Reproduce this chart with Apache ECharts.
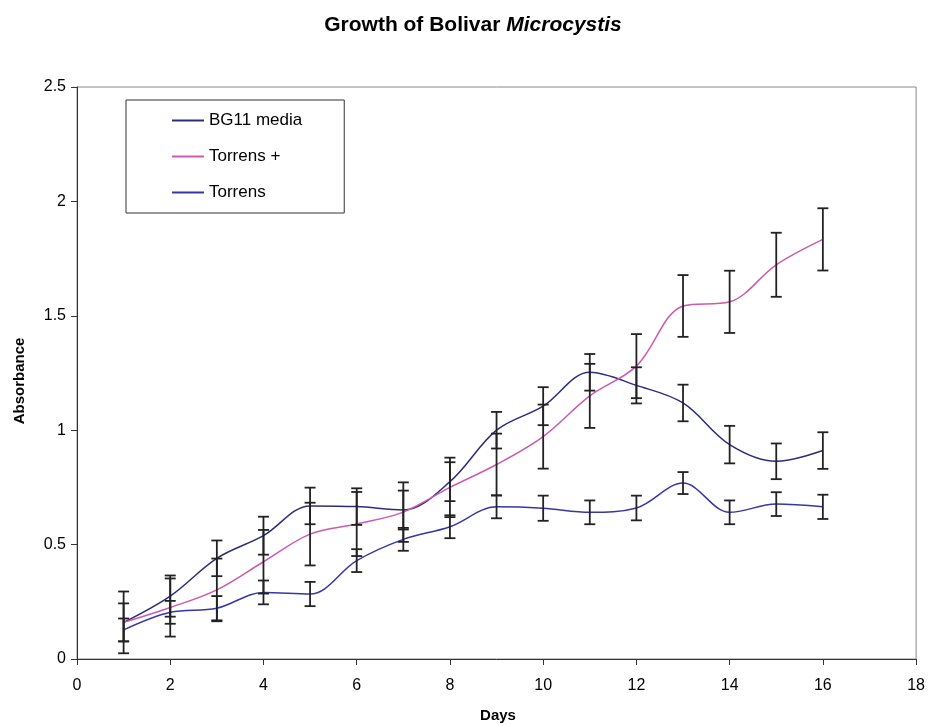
<!DOCTYPE html>
<html>
<head>
<meta charset="utf-8">
<script src="https://cdn.jsdelivr.net/npm/echarts@6/dist/echarts.min.js"></script>
<style>html,body{margin:0;padding:0;background:#fff}#c{width:928px;height:726px}</style>
</head>
<body>
<div id="c"></div>
<script>
const days = [1,2,3,4,5,6,7,8,9,10,11,12,13,14,15,16];
const bg11 = [0.16,0.275,0.44,0.539,0.669,0.666,0.651,0.775,1.0,1.105,1.253,1.196,1.119,0.937,0.864,0.911];
const bg11Err = [0.135,0.09,0.078,0.083,0.08,0.08,0.085,0.085,0.08,0.083,0.08,0.079,0.08,0.082,0.078,0.08];
const torrensPlus = [0.16,0.225,0.302,0.425,0.546,0.59,0.642,0.75,0.85,0.972,1.15,1.28,1.543,1.561,1.723,1.834];
const torrensPlusErr = [0.083,0.127,0.137,0.139,0.137,0.14,0.13,0.13,0.135,0.14,0.14,0.14,0.135,0.136,0.14,0.136];
const torrens = [0.127,0.204,0.222,0.291,0.284,0.43,0.523,0.578,0.665,0.659,0.641,0.66,0.769,0.641,0.677,0.665];
const torrensErr = [0.05,0.05,0.053,0.052,0.053,0.05,0.05,0.05,0.05,0.055,0.052,0.054,0.048,0.052,0.052,0.053];
const yTicks = [0,0.5,1,1.5,2,2.5];

const chart = echarts.init(document.getElementById('c'), null, {renderer:'canvas'});
const FONT = '"Liberation Sans", Arial, sans-serif';

function pairs(v){ return days.map((d,i)=>[d,v[i]]); }
function errData(v,e){ return days.map((d,i)=>[d,v[i]-e[i],v[i]+e[i]]); }
function errSeries(v,e){
  return {
    type:'custom', silent:true, z:5,
    data: errData(v,e),
    renderItem: function(params, api){
      const x = api.value(0);
      const lo = api.coord([x, api.value(1)]);
      const hi = api.coord([x, api.value(2)]);
      const w = 5.5;
      const st = {stroke:'#222', lineWidth:1.8};
      return {type:'group', children:[
        {type:'line', shape:{x1:lo[0],y1:lo[1],x2:hi[0],y2:hi[1]}, style:st},
        {type:'line', shape:{x1:lo[0]-w,y1:lo[1],x2:lo[0]+w,y2:lo[1]}, style:st},
        {type:'line', shape:{x1:hi[0]-w,y1:hi[1],x2:hi[0]+w,y2:hi[1]}, style:st}
      ]};
    }
  };
}
function lineSeries(name, v, color){
  return {name:name, type:'line', data:pairs(v), smooth:0.35, showSymbol:false, symbol:'none',
    lineStyle:{color:color, width:1.5}, itemStyle:{color:color}, z:3};
}

chart.setOption({
  animation:false,
  backgroundColor:'#fff',
  title:{
    text:'{a|Growth of Bolivar }{b|Microcystis}',
    left:468, top:10, textAlign:'center',
    textStyle:{rich:{
      a:{fontFamily:FONT, fontWeight:'bold', fontSize:21, color:'#000'},
      b:{fontFamily:FONT, fontWeight:'bold', fontStyle:'italic', fontSize:21, color:'#000'}
    }}
  },
  graphic:[
    {type:'text', x:20, y:381, rotation:Math.PI/2,
      style:{text:'Absorbance', fontFamily:FONT, fontWeight:'bold', fontSize:15, fill:'#000', align:'center', verticalAlign:'middle'}},
    {type:'text', x:498, y:716,
      style:{text:'Days', fontFamily:FONT, fontWeight:'bold', fontSize:15, fill:'#000', align:'center', verticalAlign:'middle'}}
  ],
  grid:{left:77, right:11, top:87, bottom:67, show:true, borderColor:'#888', borderWidth:1},
  legend:{
    orient:'vertical', left:126, top:100,
    padding:[12,42,12,46],
    itemGap:19, itemWidth:32, itemHeight:2,
    icon:'rect',
    borderColor:'#333', borderWidth:1, backgroundColor:'#fff',
    textStyle:{fontFamily:FONT, fontSize:17, color:'#000'},
    data:['BG11 media','Torrens +','Torrens']
  },
  xAxis:{
    type:'value', min:0, max:18, interval:2,
    axisLine:{show:true, lineStyle:{color:'#333', width:1}},
    axisTick:{show:true, inside:false, length:6, lineStyle:{color:'#333'}},
    axisLabel:{fontFamily:FONT, fontSize:16, color:'#000', margin:19},
    splitLine:{show:false}
  },
  yAxis:{
    type:'value', min:0, max:2.5, interval:0.5,
    axisLine:{show:true, lineStyle:{color:'#333', width:1}},
    axisTick:{show:true, inside:false, length:6, lineStyle:{color:'#333'}},
    axisLabel:{fontFamily:FONT, fontSize:16, color:'#000', margin:11,
      formatter:function(v){ const t = yTicks.find(k=>Math.abs(k-v)<1e-9); return t===undefined? '' : String(t); }},
    splitLine:{show:false}
  },
  series:[
    lineSeries('BG11 media', bg11, '#2c2c7c'),
    lineSeries('Torrens +', torrensPlus, '#cc5aae'),
    lineSeries('Torrens', torrens, '#3636a8'),
    errSeries(bg11, bg11Err),
    errSeries(torrensPlus, torrensPlusErr),
    errSeries(torrens, torrensErr)
  ]
});
</script>
</body>
</html>
